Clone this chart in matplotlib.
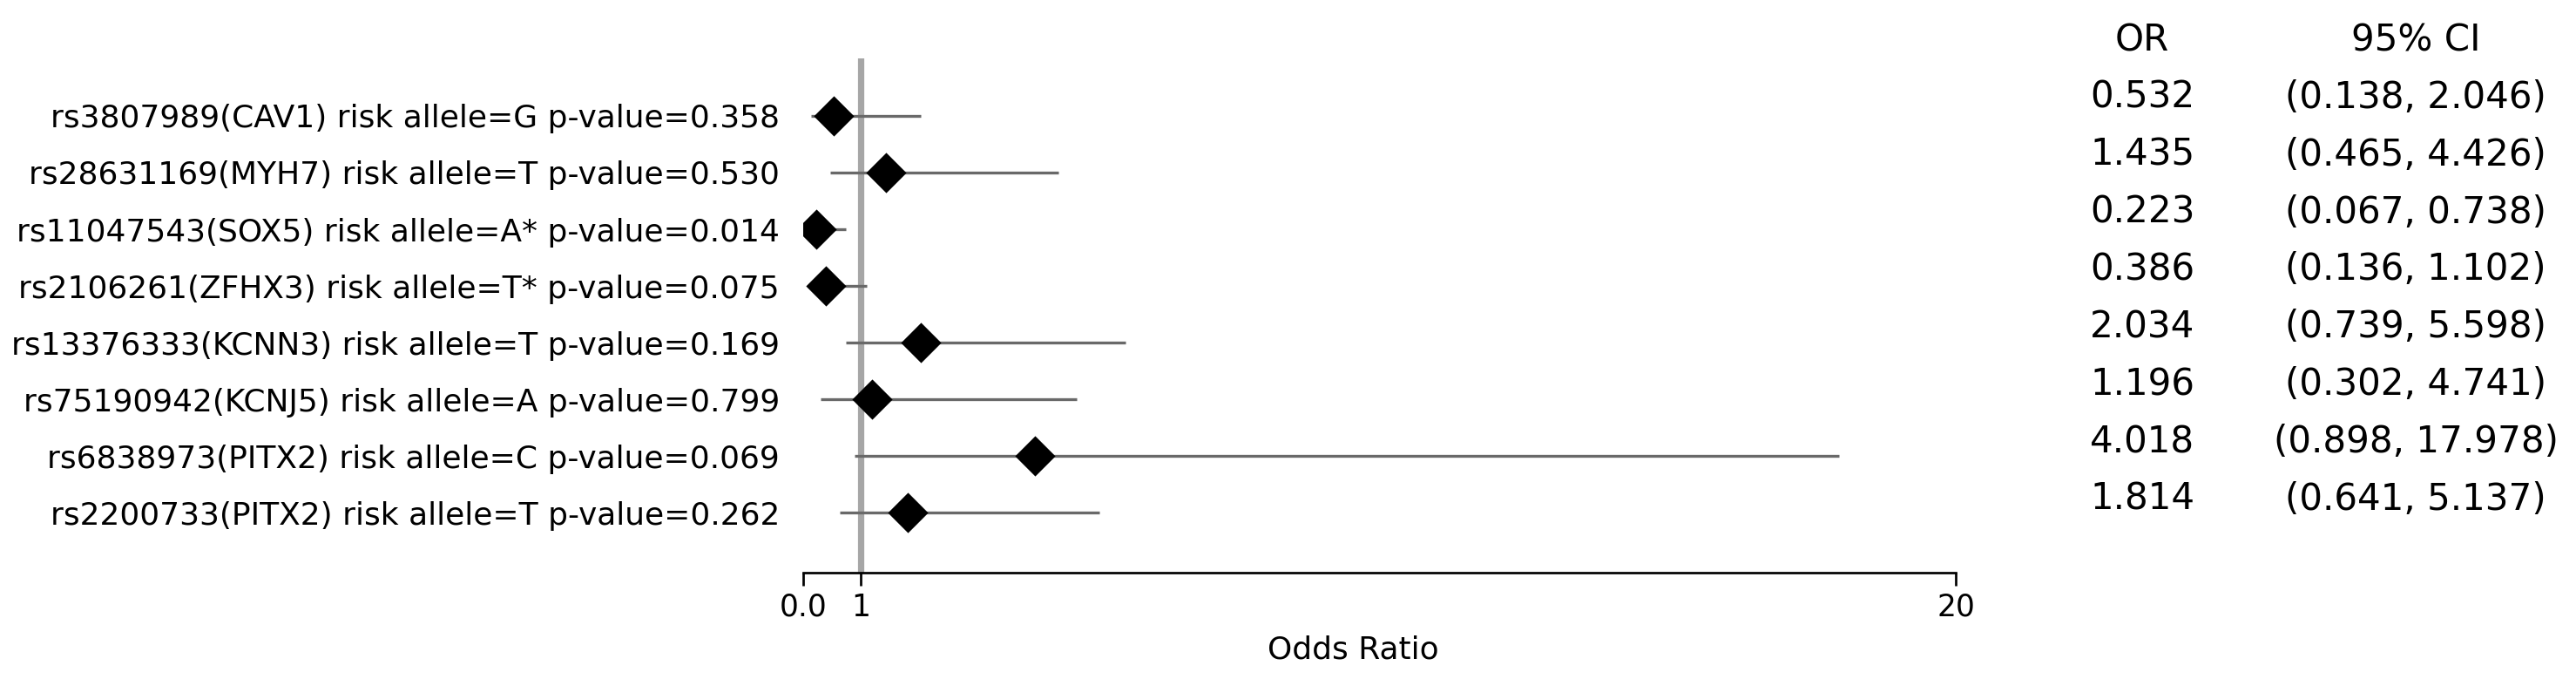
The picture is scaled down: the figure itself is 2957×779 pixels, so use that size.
import matplotlib
matplotlib.use("Agg")
import matplotlib.pyplot as plt
import numpy as np

# data
snps = [
    "rs3807989(CAV1) risk allele=G p-value=0.358",
    "rs28631169(MYH7) risk allele=T p-value=0.530",
    "rs11047543(SOX5) risk allele=A* p-value=0.014",
    "rs2106261(ZFHX3) risk allele=T* p-value=0.075",
    "rs13376333(KCNN3) risk allele=T p-value=0.169",
    "rs75190942(KCNJ5) risk allele=A p-value=0.799",
    "rs6838973(PITX2) risk allele=C p-value=0.069",
    "rs2200733(PITX2) risk allele=T p-value=0.262",
]
odds = [0.532, 1.435, 0.223, 0.386, 2.034, 1.196, 4.018, 1.814]
ci_low = [0.138, 0.465, 0.067, 0.136, 0.739, 0.302, 0.898, 0.641]
ci_high = [2.046, 4.426, 0.738, 1.102, 5.598, 4.741, 17.978, 5.137]
x_ticks = [0.0, 1, 20]
x_tick_labels = ["0.0", "1", "20"]

DPI = 216
fig = plt.figure(figsize=(2957 / DPI, 779 / DPI), dpi=DPI)
fig.patch.set_facecolor("white")

# main forest axes
ax = fig.add_axes([0.3118, 0.1566, 0.4474, 0.7574])
y = np.arange(len(snps))

ax.axvline(1, color="#a6a6a6", linewidth=2.4, zorder=1)
ax.hlines(y, ci_low, ci_high, color="dimgray", linewidth=1.1, zorder=2)
ax.plot(odds, y, linestyle="none", marker="D", markersize=10,
        color="black", zorder=3)

ax.set_xlim(0, 20)
ax.set_ylim(len(snps) - 1 + 1.06, -1.015)
ax.set_xticks(x_ticks)
ax.set_xticklabels(x_tick_labels, fontsize=11.5)
ax.set_yticks(y)
ax.set_yticklabels(snps, fontsize=12)
ax.tick_params(axis="y", length=0, pad=9)
ax.tick_params(axis="x", length=5, width=0.9, pad=2.5)
ax.set_xlabel("Odds Ratio", fontsize=12, labelpad=5)
ax.xaxis.label.set_x(0.477)

for side in ["top", "right", "left"]:
    ax.spines[side].set_visible(False)
ax.spines["bottom"].set_linewidth(0.9)

# OR / CI table on the right
tab = fig.add_axes([0, 0, 1, 1], facecolor="none")
tab.set_xlim(0, 1)
tab.set_ylim(10.13, -1.70)
tab.axis("off")

col_or, col_ci = 0.8316, 0.9378
tab.text(col_or, -1, "OR", ha="center", va="center", fontsize=14)
tab.text(col_ci, -1, "95% CI", ha="center", va="center", fontsize=14)
for i in range(len(odds)):
    tab.text(col_or, i, f"{odds[i]:.3f}", ha="center", va="center", fontsize=14)
    tab.text(col_ci, i, f"({ci_low[i]:.3f}, {ci_high[i]:.3f})",
             ha="center", va="center", fontsize=14)

fig.savefig("out.png", dpi=DPI, facecolor="white")
